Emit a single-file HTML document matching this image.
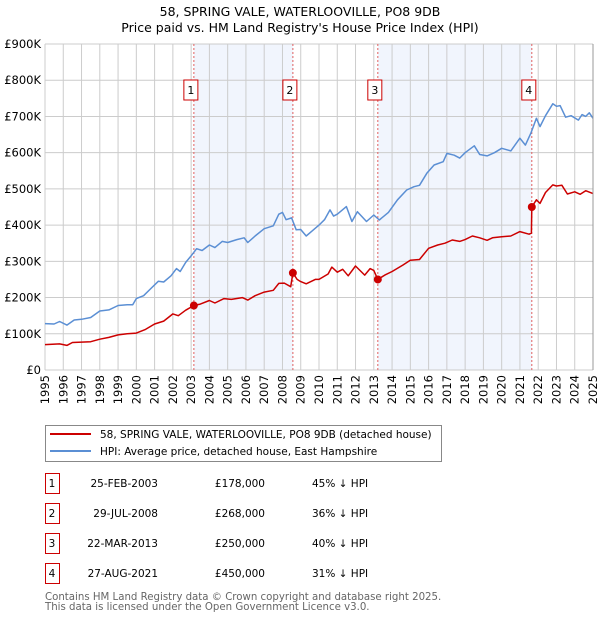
<!DOCTYPE html>
<html><head><meta charset="utf-8"><style>
body{margin:0;background:#fff;width:600px;height:620px;overflow:hidden;font-family:"DejaVu Sans","Liberation Sans",sans-serif;}
svg text{font-family:"DejaVu Sans","Liberation Sans",sans-serif;}
</style></head><body>
<svg id="chart" width="600" height="620" viewBox="0 0 600 620" xmlns="http://www.w3.org/2000/svg">
<text x="300" y="16" text-anchor="middle" font-size="12.5">58, SPRING VALE, WATERLOOVILLE, PO8 9DB</text>
<text x="300" y="32" text-anchor="middle" font-size="12.5">Price paid vs. HM Land Registry's House Price Index (HPI)</text>
<g id="plot"></g>
<g>
<rect x="45.5" y="425.5" width="396" height="36" fill="#fff" stroke="#888"/>
<line x1="50" y1="434" x2="91" y2="434" stroke="#cc0000" stroke-width="2"/>
<text x="100" y="438" font-size="10.5">58, SPRING VALE, WATERLOOVILLE, PO8 9DB (detached house)</text>
<line x1="50" y1="451" x2="91" y2="451" stroke="#5b8fd4" stroke-width="2"/>
<text x="100" y="455" font-size="10.5">HPI: Average price, detached house, East Hampshire</text>
</g>
<g id="table"></g>
<text x="45" y="600" font-size="10.2" fill="#666">Contains HM Land Registry data © Crown copyright and database right 2025.</text>
<text x="45" y="610" font-size="10.2" fill="#666">This data is licensed under the Open Government Licence v3.0.</text>
</svg>
<script>
const hpiYears=[1995.0,1995.5,1995.8,1996.2,1996.6,1997.0,1997.5,1998.0,1998.5,1999.0,1999.5,1999.8,2000.0,2000.4,2000.8,2001.2,2001.5,2001.9,2002.2,2002.4,2002.7,2003.0,2003.3,2003.6,2004.0,2004.3,2004.7,2005.0,2005.5,2005.9,2006.1,2006.5,2007.0,2007.5,2007.8,2008.0,2008.2,2008.5,2008.75,2009.0,2009.3,2009.6,2010.0,2010.3,2010.6,2010.8,2011.0,2011.5,2011.8,2012.1,2012.6,2013.0,2013.3,2013.8,2014.3,2014.8,2015.2,2015.5,2015.9,2016.3,2016.8,2017.0,2017.4,2017.7,2018.0,2018.5,2018.8,2019.2,2019.6,2020.0,2020.5,2021.0,2021.3,2021.6,2021.9,2022.1,2022.4,2022.8,2023.0,2023.2,2023.5,2023.8,2024.2,2024.4,2024.6,2024.8,2025.0];
const hpiValues=[128,127,134,124,138,140,145,163,166,178,180,180,197,205,225,245,243,260,280,272,297,315,335,330,345,338,355,352,360,365,352,370,390,398,430,435,415,420,387,388,370,383,400,415,442,425,430,451,410,437,410,428,414,435,470,497,506,510,543,566,575,598,593,585,600,619,595,591,600,612,605,640,621,654,695,672,702,735,728,730,698,702,690,705,700,710,695];
const ppYears=[1995.0,1995.8,1996.2,1996.5,1997.5,1998.0,1998.5,1999.0,1999.5,2000.0,2000.5,2001.0,2001.5,2002.0,2002.3,2002.7,2003.15,2003.5,2004.0,2004.3,2004.8,2005.2,2005.8,2006.1,2006.5,2007.0,2007.5,2007.8,2008.1,2008.45,2008.57,2008.8,2009.0,2009.3,2009.8,2010.0,2010.5,2010.7,2011.0,2011.3,2011.6,2012.0,2012.5,2012.8,2013.0,2013.22,2013.6,2014.0,2014.6,2015.0,2015.5,2016.0,2016.5,2016.9,2017.3,2017.7,2018.0,2018.4,2018.8,2019.2,2019.5,2020.0,2020.5,2021.0,2021.5,2021.63,2021.65,2021.9,2022.1,2022.4,2022.8,2023.0,2023.3,2023.6,2024.0,2024.3,2024.6,2025.0];
const ppValues=[70,72,68,76,78,85,90,97,100,102,112,127,135,155,150,165,178,182,192,185,197,195,200,193,205,215,220,239,240,230,268,250,244,238,250,250,265,284,270,278,260,287,262,280,275,250,262,272,290,303,305,336,345,350,359,355,360,370,365,358,365,368,370,382,375,378,450,470,460,490,511,508,510,486,492,485,495,487];
const saleYears=[2003.15,2008.57,2013.22,2021.65];
const saleValues=[178,268,250,450];
const saleLabels=["1","2","3","4"];
const saleDates=["25-FEB-2003","29-JUL-2008","22-MAR-2013","27-AUG-2021"];
const salePrices=["£178,000","£268,000","£250,000","£450,000"];
const saleDiffs=["45% ↓ HPI","36% ↓ HPI","40% ↓ HPI","31% ↓ HPI"];
const yTicks=[0,100,200,300,400,500,600,700,800,900];
const yTickLabels=["£0","£100K","£200K","£300K","£400K","£500K","£600K","£700K","£800K","£900K"];
const xTicks=[1995,1996,1997,1998,1999,2000,2001,2002,2003,2004,2005,2006,2007,2008,2009,2010,2011,2012,2013,2014,2015,2016,2017,2018,2019,2020,2021,2022,2023,2024,2025];

const NS="http://www.w3.org/2000/svg";
const L=45,R=593,T=44,B=370;
const xs=y=>L+(y-1995)/30*(R-L);
const ys=v=>B-v/900*(B-T);
const plot=document.getElementById('plot');
function mk(tag,attrs,parent){const e=document.createElementNS(NS,tag);for(const k in attrs)e.setAttribute(k,attrs[k]);(parent||plot).appendChild(e);return e;}

for(let i=0;i<saleYears.length;i+=2){
 const r=mk('rect',{x:xs(saleYears[i]),y:T,width:xs(saleYears[i+1])-xs(saleYears[i]),height:B-T,fill:'#eef3fc',opacity:0.8});
 
 
}
yTicks.forEach((t,i)=>{
 const g=mk('line',{x1:L,x2:R,y1:ys(t),y2:ys(t),stroke:'#ccc','stroke-width':1});
 
 
 const tx=mk('text',{x:L-4,y:ys(t)+4,'text-anchor':'end','font-size':11.5});
 tx.textContent=yTickLabels[i];
 
 
});
xTicks.forEach(t=>{
 const g=mk('line',{x1:xs(t),x2:xs(t),y1:T,y2:B,stroke:'#ccc','stroke-width':1});
 
 
 const tx=mk('text',{x:0,y:0,'text-anchor':'end','font-size':11.5,transform:`translate(${xs(t)+4},${B+5}) rotate(-90)`});
 tx.textContent=t;
 
 
});
saleYears.forEach((y,i)=>{
 const l=mk('line',{x1:xs(y),x2:xs(y),y1:T,y2:B,stroke:'#e06060','stroke-width':1,'stroke-dasharray':'2,2'});
 
 
 const bx=mk('rect',{x:xs(y)-10,y:80,width:14,height:20,fill:'#fff',stroke:'#cc0000','stroke-width':1});
 
 
 const tx=mk('text',{x:xs(y)-3,y:94,'text-anchor':'middle','font-size':11});
 tx.textContent=saleLabels[i];
 
 
});
function path(xa,va,color,name){
 const d=xa.map((x,i)=>(i?'L':'M')+xs(x).toFixed(1)+','+ys(va[i]).toFixed(1)).join('');
 const p=mk('path',{d:d,fill:'none',stroke:color,'stroke-width':1.5,'stroke-linejoin':'round'});
 
 
}
path(hpiYears,hpiValues,'#5b8fd4','hpi-line');
path(ppYears,ppValues,'#cc0000','price-paid-line');
saleYears.forEach((y,i)=>{
 const c=mk('circle',{cx:xs(y),cy:ys(saleValues[i]),r:4,fill:'#cc0000'});
 
 
});
mk('line',{x1:R,x2:R,y1:T,y2:B,stroke:'#999','stroke-width':1});

const tb=document.getElementById('table');
saleLabels.forEach((lab,i)=>{
 const y=483+i*30;
 const bx=mk('rect',{x:45.5,y:y-9.5,width:14,height:20,fill:'#fff',stroke:'#cc0000'},tb);
 
 
 const vals=[[lab,52,'middle'],[saleDates[i],158,'end'],[salePrices[i],265,'end'],[saleDiffs[i],312,'start']];
 vals.forEach(v=>{
  const t=mk('text',{x:v[1],y:y+4,'text-anchor':v[2],'font-size':10.5},tb);
  t.textContent=v[0];
  
  
 });
});
</script>
</body></html>
